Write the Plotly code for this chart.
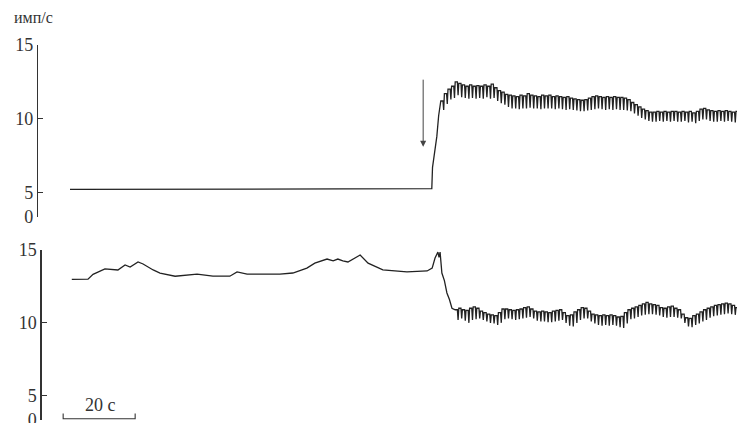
import plotly.graph_objects as go

# ---------------- data (time in s, rate in имп/с) ----------------
PERIOD = 1.0  # s, one pulse cycle

# top record: steady part and onset of response
top_t = [0.0, 100.4, 100.5, 100.7, 101.2, 101.9, 102.4, 102.8]
top_v = [5.2, 5.2, 5.25, 6.7, 7.6, 8.8, 10.2, 11.0]
top_cycle_start = 103.0
top_hi = [11.2, 11.7, 12.0, 12.2, 12.5, 12.4, 12.3, 12.2, 12.3, 12.2,
          12.25, 12.2, 12.3, 12.2, 12.35, 12.1, 11.9, 11.8, 11.65, 11.6,
          11.55, 11.5, 11.6, 11.55, 11.7, 11.6, 11.55, 11.5, 11.6, 11.55,
          11.6, 11.5, 11.55, 11.5, 11.45, 11.5, 11.4, 11.35, 11.3, 11.25,
          11.3, 11.4, 11.5, 11.55, 11.5, 11.45, 11.5, 11.45, 11.5, 11.45,
          11.45, 11.4, 11.3, 11.1, 10.95, 10.8, 10.65, 10.55, 10.45, 10.45,
          10.5, 10.45, 10.5, 10.45, 10.5, 10.5, 10.45, 10.5, 10.45, 10.5,
          10.4, 10.5, 10.65, 10.7, 10.6, 10.55, 10.5, 10.55, 10.5, 10.55,
          10.5, 10.45, 10.5]
top_lo = [10.6, 11.0, 11.3, 11.4, 11.6, 11.45, 11.4, 11.35, 11.4, 11.35,
          11.4, 11.35, 11.45, 11.35, 11.4, 11.2, 11.05, 10.95, 10.8, 10.7,
          10.7, 10.65, 10.7, 10.7, 10.75, 10.7, 10.7, 10.65, 10.7, 10.7,
          10.7, 10.65, 10.7, 10.65, 10.6, 10.65, 10.6, 10.55, 10.5, 10.5,
          10.55, 10.6, 10.65, 10.7, 10.65, 10.6, 10.65, 10.6, 10.65, 10.6,
          10.6, 10.55, 10.5, 10.35, 10.2, 10.05, 9.95, 9.85, 9.8, 9.8,
          9.85, 9.8, 9.85, 9.8, 9.85, 9.8, 9.8, 9.85, 9.75, 9.8,
          9.7, 9.85, 9.95, 9.95, 9.85, 9.8, 9.8, 9.85, 9.8, 9.85,
          9.8, 9.75, 9.8]

# bottom record
bot_t = [0.5, 5.0, 6.4, 9.7, 13.3, 15.3, 16.7, 18.9, 20.3, 23.1, 25.0,
         29.2, 35.3, 39.7, 44.4, 46.4, 49.2, 58.3, 61.9, 65.8, 68.0, 71.4,
         73.1, 74.4, 75.8, 77.2, 80.6, 82.8, 86.9, 93.6, 99.2, 100.6, 101.4,
         101.9, 102.2, 102.5, 102.8, 103.3, 104.0, 104.7, 105.4, 106.1]
bot_v = [12.99, 13.0, 13.33, 13.7, 13.63, 13.97, 13.83, 14.18, 14.04, 13.63,
         13.42, 13.2, 13.35, 13.2, 13.2, 13.5, 13.35, 13.35, 13.42, 13.76,
         14.1, 14.38, 14.25, 14.38, 14.25, 14.18, 14.66, 14.1, 13.63, 13.5,
         13.56, 13.76, 14.45, 14.8, 14.86, 14.5, 14.86, 13.42, 12.9, 12.05,
         11.6, 11.0]
bot_cycle_start = 107.0
bot_hi = [10.9, 11.0, 10.9, 10.85, 11.0, 11.1, 11.0, 10.8, 10.7, 10.6,
          10.55, 10.5, 10.7, 10.95, 10.95, 10.9, 10.85, 10.9, 10.95, 11.05,
          11.1, 10.95, 10.8, 10.75, 10.8, 10.75, 10.7, 10.8, 10.85, 10.9,
          10.7, 10.5, 10.55, 10.75, 10.9, 11.05, 11.0, 10.8, 10.6, 10.55,
          10.5, 10.55, 10.5, 10.55, 10.5, 10.4, 10.45, 10.7, 10.9, 11.0,
          11.1, 11.2, 11.3, 11.4, 11.3, 11.25, 11.2, 11.05, 11.0, 11.1,
          11.15, 11.0, 10.9, 10.6, 10.35, 10.3, 10.5, 10.6, 10.75, 10.9,
          11.0, 11.1, 11.2, 11.25, 11.3, 11.35, 11.3, 11.2, 11.05]
bot_lo = [10.2, 10.3, 10.15, 10.0, 10.2, 10.25, 10.3, 10.2, 10.1, 10.0,
          9.95, 9.85, 10.0, 10.25, 10.3, 10.25, 10.2, 10.25, 10.3, 10.35,
          10.4, 10.3, 10.15, 10.1, 10.1, 10.05, 10.05, 10.1, 10.15, 10.2,
          10.0, 9.8, 9.75, 10.0, 10.2, 10.3, 10.3, 10.1, 9.95, 9.85,
          9.8, 9.85, 9.8, 9.85, 9.8, 9.7, 9.65, 9.95, 10.25, 10.3,
          10.4, 10.5, 10.55, 10.6, 10.6, 10.55, 10.5, 10.4, 10.35, 10.4,
          10.4, 10.35, 10.3, 10.0, 9.75, 9.7, 9.85, 9.95, 10.1, 10.2,
          10.35, 10.45, 10.5, 10.55, 10.6, 10.65, 10.6, 10.55, 10.45]

y_tickvals = [15, 10, 5]
y_ticktext = ["15", "10", "5"]
unit_label = "имп/с"
scale_bar_s = 20
scale_label = "20 с"
stim_t = 98.1  # moment of stimulus (arrow)


def with_cycles(t_list, v_list, start, hi, lo):
    ts, vs = list(t_list), list(v_list)
    for k, (h, l) in enumerate(zip(hi, lo)):
        t = start + k * PERIOD
        ts += [t, t + 0.6 * PERIOD, t + 0.8 * PERIOD]
        vs += [h, h, l]
    return ts, vs


tt, tv = with_cycles(top_t, top_v, top_cycle_start, top_hi, top_lo)
bt, bv = with_cycles(bot_t, bot_v, bot_cycle_start, bot_hi, bot_lo)

# ---------------- figure ----------------
W, H = 737, 423
PX_PER_S = 3.6
T0_PX = 70.0
TOP_AX_PX, BOT_AX_PX = 38.0, 41.5
t_right = (W - T0_PX) / PX_PER_S

ink = "#222222"
serif = "'Liberation Serif', 'Times New Roman', 'DejaVu Serif', serif"

fig = go.Figure()
fig.add_trace(go.Scatter(x=tt, y=tv, mode="lines", xaxis="x", yaxis="y",
                         line=dict(color=ink, width=1.3), hoverinfo="skip"))
fig.add_trace(go.Scatter(x=bt, y=bv, mode="lines", xaxis="x2", yaxis="y2",
                         line=dict(color=ink, width=1.3), hoverinfo="skip"))

top_bottom_val = 3.35
bot_bottom_val = 3.33

yax_common = dict(showline=True, linecolor="#333", linewidth=1.2,
                  ticks="inside", ticklen=5, tickwidth=1.1, tickcolor="#333",
                  showgrid=False, zeroline=False, fixedrange=True,
                  automargin=False, ticklabelstandoff=0,
                  ticklabeloverflow="allow",
                  tickfont=dict(family=serif, size=18, color="#333"))

fig.update_layout(
    width=W, height=H,
    margin=dict(l=0, r=0, t=0, b=0, pad=0, autoexpand=False),
    paper_bgcolor="white", plot_bgcolor="white", showlegend=False,
    xaxis=dict(domain=[TOP_AX_PX / W, 1],
               range=[(TOP_AX_PX - T0_PX) / PX_PER_S, t_right],
               visible=False, anchor="y"),
    xaxis2=dict(domain=[BOT_AX_PX / W, 1],
                range=[(BOT_AX_PX - T0_PX) / PX_PER_S, t_right],
                visible=False, anchor="y2"),
    yaxis=dict(domain=[(H - 216.7) / H, (H - 45.0) / H],
               range=[top_bottom_val, 15],
               tickvals=y_tickvals + [top_bottom_val],
               ticktext=y_ticktext + ["0"], anchor="x", **yax_common),
    yaxis2=dict(domain=[(H - 420.0) / H, (H - 250.0) / H],
                range=[bot_bottom_val, 15],
                tickvals=y_tickvals + [bot_bottom_val],
                ticktext=y_ticktext + ["0"], anchor="x2", **yax_common),
)

# unit label
fig.add_annotation(x=12 / W, y=(H - 18) / H, xref="paper", yref="paper",
                   text=unit_label, showarrow=False, xanchor="left",
                   yanchor="middle",
                   font=dict(family=serif, size=16, color="#333"))

# stimulus arrow
fig.add_annotation(x=stim_t, y=8.1, ax=stim_t, ay=12.75, xref="x", yref="y",
                   axref="x", ayref="y", text="", showarrow=True,
                   arrowhead=2, arrowsize=1.2, arrowwidth=1.0,
                   arrowcolor="#444")

# time scale bar
sb0 = -1.9
sb_y, sb_tick = 3.42, 3.78
fig.add_shape(type="path", xref="x2", yref="y2",
              path=(f"M {sb0},{sb_tick} L {sb0},{sb_y} "
                    f"L {sb0 + scale_bar_s},{sb_y} L {sb0 + scale_bar_s},{sb_tick}"),
              line=dict(color="#333", width=1.1))
fig.add_annotation(x=sb0 + scale_bar_s / 2 + 0.3, y=4.38, xref="x2", yref="y2",
                   text=scale_label, showarrow=False,
                   font=dict(family=serif, size=18, color="#333"))

fig.write_html(
    "out.html",
    config={"displayModeBar": False, "staticPlot": True},
    post_script=("document.body.style.margin='0';"
                 "document.body.style.padding='0';"
                 "document.body.style.overflow='hidden';"),
)
